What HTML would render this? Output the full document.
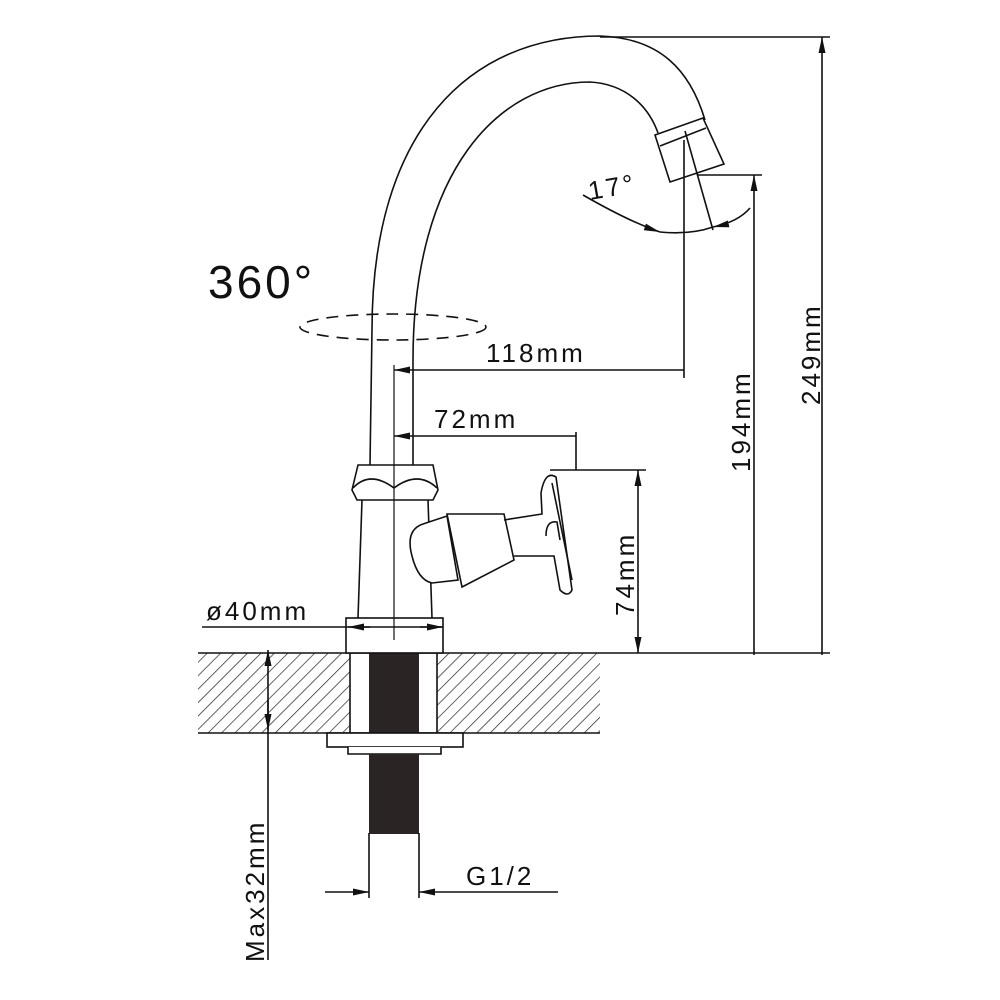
<!DOCTYPE html>
<html><head><style>body{margin:0;background:#fff}svg{display:block}</style></head><body>
<svg width="1000" height="1000" viewBox="0 0 1000 1000" xmlns="http://www.w3.org/2000/svg" font-family="Liberation Sans, sans-serif">
<defs>
<pattern id="h" patternUnits="userSpaceOnUse" width="9.5" height="9.5" patternTransform="rotate(45)">
<line x1="0" y1="0" x2="0" y2="9.5" stroke="#222" stroke-width="1.4"/></pattern>
<marker id="a" markerWidth="16" markerHeight="7" refX="16" refY="3.5" orient="auto" markerUnits="userSpaceOnUse"><path d="M0,0 L16,3.5 L0,7z" fill="#111"/></marker>
</defs>
<g stroke="#111" stroke-width="1.6" fill="none">
<!-- counter -->
<rect x="198" y="653" width="402" height="80" fill="url(#h)" stroke="none"/>
<line x1="198" y1="653" x2="830" y2="653"/>
<line x1="198" y1="733" x2="600" y2="733"/>
<rect x="350" y="653" width="87" height="80" fill="#fff"/>
<rect x="369" y="653" width="50" height="180" fill="#2a2424" stroke="none"/>
<rect x="327" y="733" width="136" height="14" fill="#fff"/>
<path d="M348,747 L348,754 L441,754 L441,747" fill="#fff"/>
<rect x="369" y="754" width="50" height="80" fill="#2a2424" stroke="none"/>
<line x1="369" y1="833" x2="369" y2="898"/><line x1="419" y1="833" x2="419" y2="898"/>
<!-- G1/2 -->
<line x1="325" y1="892" x2="369" y2="892" marker-end="url(#a)"/>
<line x1="558" y1="892" x2="419" y2="892" marker-end="url(#a)"/>
<!-- Max32 -->
<line x1="268" y1="960" x2="268" y2="650" marker-end="url(#a)"/>
<line x1="268" y1="700" x2="268" y2="730" marker-end="url(#a)"/>
<!-- base -->
<rect x="346" y="618" width="97" height="35" fill="#fff"/>
<line x1="346" y1="627" x2="443" y2="627"/>
<line x1="202" y1="627" x2="346" y2="627"/>
<line x1="370" y1="627" x2="348" y2="627" marker-end="url(#a)"/>
<line x1="420" y1="627" x2="443" y2="627" marker-end="url(#a)"/>
<!-- body -->
<path d="M362,500 L358,618 M428,500 L432,618"/>
<path d="M358,465 L433,465 L438,490 L433,500 L357,500 L352,490 Z" fill="#fff"/>
<path d="M353,488 Q370,470 394,488 Q418,470 437,488"/>
<!-- handle -->
<path d="M423,524 Q405,530 412,556 Q418,580 432,583 L458,580 L447,516 Z" fill="#fff"/>
<path d="M447,514 L504,514 L514,560 L462,587 Z" fill="#fff"/>
<path d="M504,520 L542,514 L541,493 Q545,470 556,477 L572,590 Q568,598 560,590 L554,556 L514,556"/>
<path d="M552,483 L572,580"/>
<path d="M546,536 Q546,520 557,522 L560,540"/>
<!-- spout -->
<path d="M370,465 L372,330 C372,130 470,36 600,36 C660,38 690,70 705,120"/>
<path d="M413,465 L413,360 C413,170 500,82 590,82 C625,84 648,105 658,133"/>
<path d="M655,135 L703,118 L724,164 L670,182 Z" fill="#fff"/>
<line x1="660" y1="146" x2="706" y2="128"/>
<line x1="685" y1="131" x2="713" y2="230"/>
<line x1="394" y1="365" x2="394" y2="640" stroke-width="1.2"/>
<!-- dashed ellipse -->
<ellipse cx="393" cy="327" rx="93" ry="13" stroke-dasharray="12,8"/>
<!-- 118 -->
<line x1="684" y1="140" x2="684" y2="378"/>
<line x1="684" y1="370" x2="394" y2="370" marker-end="url(#a)"/>
<line x1="576" y1="432" x2="576" y2="470"/>
<line x1="576" y1="436" x2="394" y2="436" marker-end="url(#a)"/>
<!-- 74 -->
<line x1="550" y1="470" x2="646" y2="470"/>
<line x1="638" y1="560" x2="638" y2="470" marker-end="url(#a)"/>
<line x1="638" y1="560" x2="638" y2="653" marker-end="url(#a)"/>
<!-- 194 -->
<line x1="697" y1="175" x2="762" y2="175"/>
<line x1="754" y1="655" x2="754" y2="175" marker-end="url(#a)"/>
<!-- 249 -->
<line x1="600" y1="37" x2="830" y2="37"/>
<line x1="822" y1="655" x2="822" y2="37" marker-end="url(#a)"/>
<!-- 17 -->
<path d="M583,195 Q630,222 660,232" marker-end="url(#a)"/>
<path d="M660,232 Q690,235 713,227" />
<path d="M750,208 Q738,222 713,227" marker-end="url(#a)"/>
</g>
<g fill="#111" font-size="26" letter-spacing="3">
<text x="208" y="298" font-size="46">360°</text>
<text x="486" y="362">118mm</text>
<text x="434" y="428">72mm</text>
<text x="206" y="620">ø40mm</text>
<text x="466" y="885">G1/2</text>
<text x="590" y="200" transform="rotate(-10 590 200)">17°</text>
<text transform="translate(634 616) rotate(-90)">74mm</text>
<text transform="translate(750 472) rotate(-90)">194mm</text>
<text transform="translate(820 405) rotate(-90)">249mm</text>
<text transform="translate(264 962) rotate(-90)">Max32mm</text>
</g>
</svg>
</body></html>
